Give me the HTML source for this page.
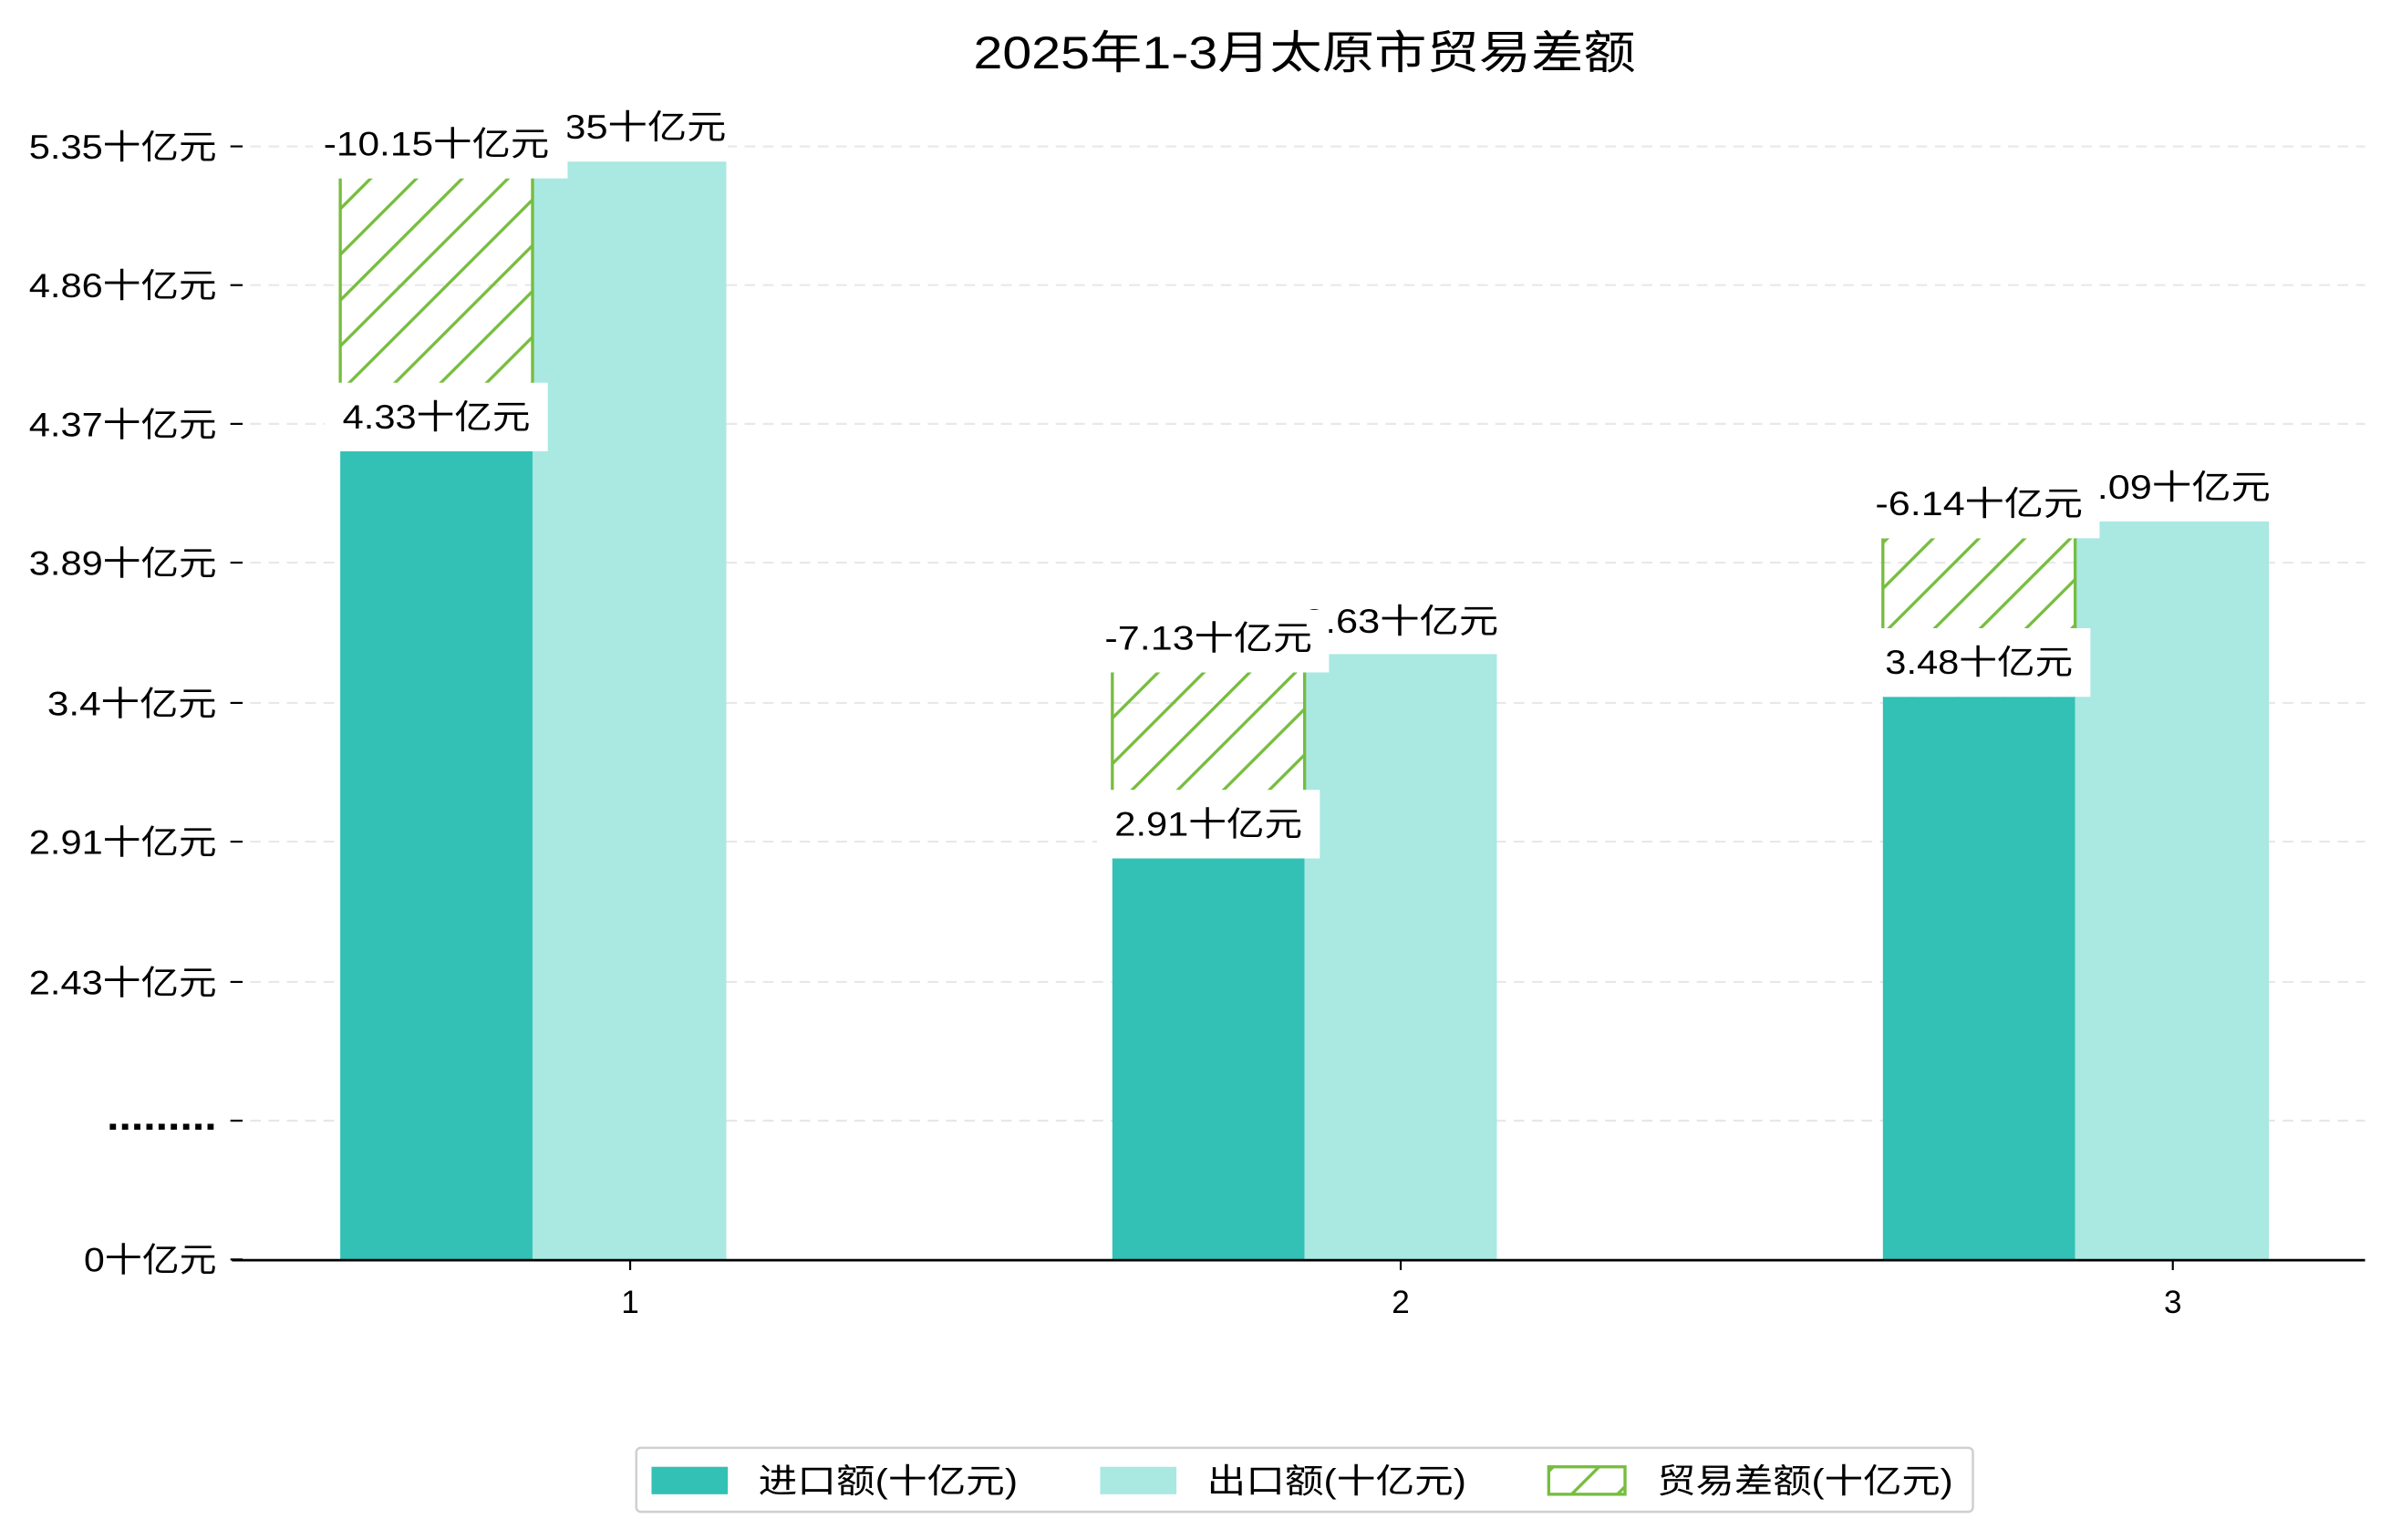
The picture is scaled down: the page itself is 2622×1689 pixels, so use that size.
<!DOCTYPE html>
<html><head><meta charset="utf-8"><style>
html,body{margin:0;padding:0;background:#fff;}
svg{display:block;}
text{font-family:"Liberation Sans","Noto Sans CJK SC",sans-serif;fill:#000;}
</style></head><body>
<svg width="2622" height="1689" viewBox="0 0 1567 1010" preserveAspectRatio="none" xmlns="http://www.w3.org/2000/svg">
<defs>
<pattern id="h" patternUnits="userSpaceOnUse" width="30" height="30">
<path d="M-5,35 L35,-5 M-20,20 L20,-20 M10,50 L50,10" stroke="#77bd3f" stroke-width="2"/>
</pattern>
</defs>
<rect width="1567" height="1010" fill="#fff"/>
<text x="855" y="45" font-size="30" text-anchor="middle" textLength="434" lengthAdjust="spacingAndGlyphs">2025年1-3月太原市贸易差额</text>
<g stroke="#e8e8e8" stroke-width="1.3" stroke-dasharray="7,5">
<line x1="152" x2="1550" y1="96" y2="96"/><line x1="152" x2="1550" y1="187" y2="187"/>
<line x1="152" x2="1550" y1="278" y2="278"/><line x1="152" x2="1550" y1="369" y2="369"/>
<line x1="152" x2="1550" y1="461" y2="461"/><line x1="152" x2="1550" y1="552" y2="552"/>
<line x1="152" x2="1550" y1="644" y2="644"/><line x1="152" x2="1550" y1="735" y2="735"/>
</g>
<g stroke="#000" stroke-width="1.3">
<line x1="151" x2="159" y1="96" y2="96"/><line x1="151" x2="159" y1="187" y2="187"/>
<line x1="151" x2="159" y1="278" y2="278"/><line x1="151" x2="159" y1="369" y2="369"/>
<line x1="151" x2="159" y1="461" y2="461"/><line x1="151" x2="159" y1="552" y2="552"/>
<line x1="151" x2="159" y1="644" y2="644"/><line x1="151" x2="159" y1="735" y2="735"/>
<line x1="151" x2="159" y1="826" y2="826"/>
<line x1="413" x2="413" y1="826" y2="833"/><line x1="918" x2="918" y1="826" y2="833"/><line x1="1424" x2="1424" y1="826" y2="833"/>
</g>
<g font-size="22" text-anchor="end">
<text x="142" y="104" textLength="123" lengthAdjust="spacingAndGlyphs">5.35十亿元</text>
<text x="142" y="195" textLength="123" lengthAdjust="spacingAndGlyphs">4.86十亿元</text>
<text x="142" y="286" textLength="123" lengthAdjust="spacingAndGlyphs">4.37十亿元</text>
<text x="142" y="377" textLength="123" lengthAdjust="spacingAndGlyphs">3.89十亿元</text>
<text x="142" y="469" textLength="111" lengthAdjust="spacingAndGlyphs">3.4十亿元</text>
<text x="142" y="560" textLength="123" lengthAdjust="spacingAndGlyphs">2.91十亿元</text>
<text x="142" y="652" textLength="123" lengthAdjust="spacingAndGlyphs">2.43十亿元</text>
<text x="142" y="741" font-size="26" font-weight="bold" textLength="72" lengthAdjust="spacingAndGlyphs">.........</text>
<text x="142" y="834" textLength="87" lengthAdjust="spacingAndGlyphs">0十亿元</text>
</g>
<g font-size="21" text-anchor="middle">
<text x="413" y="861">1</text><text x="918" y="861">2</text><text x="1424" y="861">3</text>
</g>
<rect x="223" y="296" width="126" height="530" fill="#32c1b4"/>
<rect x="349" y="106" width="127" height="720" fill="#aae8e2"/>
<rect x="729" y="563" width="126" height="263" fill="#32c1b4"/>
<rect x="855" y="429" width="126" height="397" fill="#aae8e2"/>
<rect x="1234" y="457" width="126" height="369" fill="#32c1b4"/>
<rect x="1360" y="342" width="127" height="484" fill="#aae8e2"/>
<g stroke="#77bd3f" stroke-width="2">
<rect x="223" y="117" width="126" height="179" fill="url(#h)" stroke="none"/>
<line x1="223" x2="223" y1="117" y2="296"/><line x1="349" x2="349" y1="117" y2="296"/>
<rect x="729" y="441" width="126" height="122" fill="url(#h)" stroke="none"/>
<line x1="729" x2="729" y1="441" y2="563"/><line x1="855" x2="855" y1="441" y2="563"/>
<rect x="1234" y="353" width="126" height="104" fill="url(#h)" stroke="none"/>
<line x1="1234" x2="1234" y1="353" y2="457"/><line x1="1360" x2="1360" y1="353" y2="457"/>
</g>
<g font-size="22" text-anchor="middle">
<rect x="347" y="64" width="130" height="40" fill="#fff"/>
<text x="412" y="91" textLength="128" lengthAdjust="spacingAndGlyphs">5.35十亿元</text>
<rect x="853" y="388" width="130" height="40" fill="#fff"/>
<text x="918" y="415" textLength="128" lengthAdjust="spacingAndGlyphs">2.63十亿元</text>
<rect x="1359" y="300" width="130" height="40" fill="#fff"/>
<text x="1424" y="327" textLength="128" lengthAdjust="spacingAndGlyphs">4.09十亿元</text>

<rect x="205" y="75" width="167" height="42" fill="#fff"/>
<text x="286" y="102" textLength="148" lengthAdjust="spacingAndGlyphs">-10.15十亿元</text>
<rect x="213" y="251" width="146" height="45" fill="#fff"/>
<text x="286" y="281" textLength="123" lengthAdjust="spacingAndGlyphs">4.33十亿元</text>

<rect x="715" y="400" width="156" height="41" fill="#fff"/>
<text x="792" y="426" textLength="136" lengthAdjust="spacingAndGlyphs">-7.13十亿元</text>
<rect x="719" y="518" width="146" height="45" fill="#fff"/>
<text x="792" y="548" textLength="123" lengthAdjust="spacingAndGlyphs">2.91十亿元</text>

<rect x="1220" y="310" width="156" height="43" fill="#fff"/>
<text x="1297" y="338" textLength="136" lengthAdjust="spacingAndGlyphs">-6.14十亿元</text>
<rect x="1224" y="412" width="146" height="45" fill="#fff"/>
<text x="1297" y="442" textLength="123" lengthAdjust="spacingAndGlyphs">3.48十亿元</text>
</g>
<line x1="152" x2="1550" y1="826.5" y2="826.5" stroke="#000" stroke-width="1.6"/>
<rect x="417" y="949.5" width="876" height="42" rx="3" fill="#fff" stroke="#d0d0d0" stroke-width="1.5"/>
<rect x="427" y="962" width="50" height="18" fill="#32c1b4"/>
<rect x="721" y="962" width="50" height="18" fill="#aae8e2"/>
<rect x="1015" y="962" width="50" height="18" fill="url(#h)" stroke="#77bd3f" stroke-width="2"/>
<g font-size="22">
<text x="497" y="979" textLength="170" lengthAdjust="spacingAndGlyphs">进口额(十亿元)</text>
<text x="791" y="979" textLength="170" lengthAdjust="spacingAndGlyphs">出口额(十亿元)</text>
<text x="1086" y="979" textLength="194" lengthAdjust="spacingAndGlyphs">贸易差额(十亿元)</text>
</g>
</svg>
</body></html>
